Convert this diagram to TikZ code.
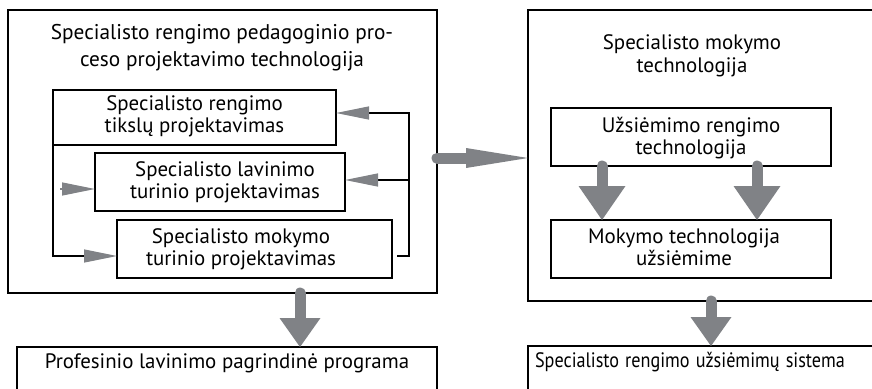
\documentclass[tikz,border=0pt]{standalone}
\usepackage{fontspec}
\setmainfont{PT Sans}
\usetikzlibrary{arrows.meta,calc}
\definecolor{arrowgray}{RGB}{128,130,134}
\begin{document}
\begin{tikzpicture}[x=1pt,y=-1pt,
  box/.style={draw=black, line width=1.5pt, rectangle, inner sep=0pt, outer sep=0pt, align=center},
  txt/.style={align=center, inner sep=0pt, font=\fontsize{20.9}{22}\selectfont},
  ttl/.style={align=center, inner sep=0pt, font=\fontsize{21.3}{27}\selectfont},
  fbarrow/.style={draw=black, line width=1.3pt, -{Triangle[length=33pt,width=13pt,color=arrowgray]}},
  bigarrow/.style 2 args={draw=arrowgray, line width=11pt, line cap=round, -{Triangle[length=#2,width=#1,color=arrowgray,line width=0pt]}}
]
\useasboundingbox (0,0) rectangle (872,388);
\clip (0,0) rectangle (872,388);

% left big box
\node[box, minimum width=429pt, minimum height=283pt] (L) at (222.5,151.5) {};
\node[ttl] (Ltitle) at (222,48) {Specialisto rengimo pedagoginio pro-\\ceso projektavimo technologija};

\node[box, minimum width=283pt, minimum height=55pt] (b1) at (194.5,117.5) {};
\node[txt] (b1t) at (194.5,116.5) {Specialisto rengimo\\tikslų projektavimas};
\node[box, minimum width=250pt, minimum height=58pt] (b2) at (220,182) {};
\node[txt] (b2t) at (225,182) {Specialisto lavinimo\\turinio projektavimas};
\node[box, minimum width=275pt, minimum height=58pt] (b3) at (254.5,249) {};
\node[txt] (b3t) at (241,249) {Specialisto mokymo\\turinio projektavimas};

% right big box
\node[box, minimum width=372pt, minimum height=291pt] (R) at (714,155.5) {};
\node[ttl, font=\fontsize{20.9}{23.5}\selectfont] (Rtitle) at (692,56) {Specialisto mokymo\\technologija};
\node[box, minimum width=280pt, minimum height=58pt] (A) at (691,137) {};
\node[txt] (At) at (691,138) {Užsiėmimo rengimo\\technologija};
\node[box, minimum width=280pt, minimum height=58pt] (B) at (691,249) {};
\node[txt] (Bt) at (684,247.5) {Mokymo technologija\\užsiėmime};

% bottom boxes
\node[box, anchor=base, minimum width=420pt, text height=15pt, text depth=45pt, inner ysep=6pt, font=\fontsize{20.9}{22}\selectfont] (BL) at (227,368) {Profesinio lavinimo pagrindinė programa};
\node[box, anchor=base west, text width=380pt, align=left, inner xsep=7pt, inner ysep=6pt, text height=15pt, text depth=45pt, font=\fontsize{20.9}{22}\selectfont] (BR) at (528,367) {\scalebox{0.87}[1]{Specialisto rengimo užsiėmimų sistema}};

% feedback connectors
\coordinate (fb1) at (409,113);
\coordinate (fb2) at (409,180);
\coordinate (fb3) at (397,256);
\coordinate (lb) at (53,256);
\coordinate (fa) at (60,189);
\draw[fbarrow] (fb3) -| (fb1) -- (b1.east |- fb1);
\draw[fbarrow] (fb2) -- (b2.east |- fb2);
\draw[fbarrow] (b1.south west) -- (lb) -- (b3.west |- lb);
\draw[fbarrow, draw=arrowgray] (fa) -- (b2.west |- fa);

% big arrows
\coordinate (dl) at (300,0);
\coordinate (dr) at (711,0);
\coordinate (ia) at (602,0);
\coordinate (ib) at (757,0);
\draw[bigarrow={20pt}{62pt}] ([yshift=-6.5pt]L.east) -- ([yshift=-6.5pt]L.east -| R.west);
\draw[bigarrow={41pt}{29pt}] (L.south -| dl) -- (BL.north -| dl);
\draw[bigarrow={41pt}{29pt}] (R.south -| dr) -- (BR.north -| dr);
\draw[bigarrow={47pt}{34pt}] (A.south -| ia) -- (B.north -| ia);
\draw[bigarrow={47pt}{34pt}] (A.south -| ib) -- (B.north -| ib);
\end{tikzpicture}
\end{document}
